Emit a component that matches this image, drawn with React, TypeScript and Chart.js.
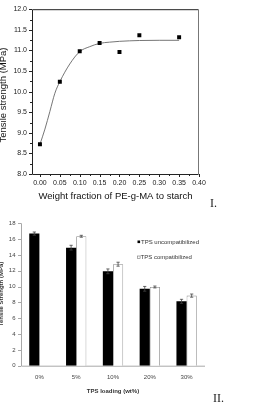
import { useEffect, useRef } from "react";
import { Chart, registerables } from "chart.js";

Chart.register(...registerables);

// ---- Panel I: tensile strength vs. PE-g-MA weight fraction ----
const peFraction = [0, 0.05, 0.1, 0.15, 0.2, 0.25, 0.35];
const tensileI = [8.72, 10.24, 10.98, 11.18, 10.96, 11.37, 11.32];
// fitted trend curve, sampled along the fraction axis
const fitFraction = [0, 0.0125, 0.025, 0.0375, 0.05, 0.075, 0.1, 0.125, 0.15, 0.175, 0.2, 0.25, 0.3, 0.35];
const fitTensile = [8.72, 9.09, 9.52, 9.96, 10.24, 10.67, 10.97, 11.09, 11.17, 11.2, 11.22, 11.24, 11.245, 11.245];
const xTicksI = [0, 0.05, 0.1, 0.15, 0.2, 0.25, 0.3, 0.35, 0.4];
const yTicksI = [8, 8.5, 9, 9.5, 10, 10.5, 11, 11.5, 12];

// ---- Panel II: tensile strength vs. TPS loading ----
const loadings = ["0%", "5%", "10%", "20%", "30%"];
const uncompat = [16.7, 14.92, 11.93, 9.72, 8.14];
const uncompatErr = [0.2, 0.3, 0.3, 0.3, 0.25];
const compat = [null, 16.36, 12.83, 9.95, 8.86];
const compatErr = [null, 0.12, 0.25, 0.12, 0.2];
const yTicksII = [0, 2, 4, 6, 8, 10, 12, 14, 16, 18];

const SANS = '"Liberation Sans", Arial, sans-serif';
const NARROW = '"Liberation Sans Narrow", "Liberation Sans", Arial, sans-serif';
const SERIF = '"Liberation Serif", "Times New Roman", serif';

function midpoints(arr: number[]) {
  const out: number[] = [];
  for (let i = 0; i < arr.length - 1; i++) out.push((arr[i] + arr[i + 1]) / 2);
  return out;
}

const frameI = {
  id: "frameI",
  afterDraw(chart: any) {
    const { ctx, chartArea: a, scales } = chart;
    const x = scales.x;
    const y = scales.y;
    ctx.save();
    ctx.lineWidth = 1;
    // box
    ctx.strokeStyle = "#222";
    ctx.beginPath();
    ctx.moveTo(a.left + 0.5, a.bottom + 0.5);
    ctx.lineTo(a.left + 0.5, a.top + 0.5);
    ctx.lineTo(a.right - 0.5, a.top + 0.5);
    ctx.stroke();
    ctx.beginPath();
    ctx.moveTo(a.left + 0.5, a.bottom + 0.5);
    ctx.lineTo(a.right - 0.5, a.bottom + 0.5);
    ctx.stroke();
    ctx.strokeStyle = "#777";
    ctx.beginPath();
    ctx.moveTo(a.right - 0.5, a.top + 0.5);
    ctx.lineTo(a.right - 0.5, a.bottom + 0.5);
    ctx.stroke();
    // outward tick marks, major and minor
    ctx.strokeStyle = "#222";
    const tick = (px: number, len: number, vertical: boolean) => {
      ctx.beginPath();
      if (vertical) {
        ctx.moveTo(Math.round(px) + 0.5, a.bottom);
        ctx.lineTo(Math.round(px) + 0.5, a.bottom + len);
      } else {
        ctx.moveTo(a.left, Math.round(px) + 0.5);
        ctx.lineTo(a.left - len, Math.round(px) + 0.5);
      }
      ctx.stroke();
    };
    xTicksI.forEach((v) => tick(x.getPixelForValue(v), 3, true));
    midpoints(xTicksI).forEach((v) => tick(x.getPixelForValue(v), 2, true));
    yTicksI.forEach((v) => tick(y.getPixelForValue(v), 3, false));
    midpoints(yTicksI).forEach((v) => tick(y.getPixelForValue(v), 2, false));
    // axis titles
    ctx.fillStyle = "#111";
    ctx.font = `9.5px ${SANS}`;
    ctx.textAlign = "center";
    ctx.textBaseline = "middle";
    ctx.fillText("Weight fraction of PE-g-MA to starch", (a.left + a.right) / 2, 196.5);
    ctx.save();
    ctx.translate(3.5, 95);
    ctx.rotate(-Math.PI / 2);
    ctx.fillText("Tensile strength (MPa)", 0, 0);
    ctx.restore();
    // panel numeral
    ctx.font = `12px ${SERIF}`;
    ctx.textAlign = "left";
    ctx.textBaseline = "alphabetic";
    ctx.fillStyle = "#222";
    ctx.fillText("I.", 210, 207);
    ctx.restore();
  },
};

const axesII = {
  id: "axesII",
  beforeDatasetsDraw(chart: any) {
    const { ctx, chartArea: a, scales } = chart;
    const y = scales.y;
    ctx.save();
    ctx.strokeStyle = "#a8a8a8";
    ctx.lineWidth = 1;
    ctx.beginPath();
    ctx.moveTo(a.left + 0.5, a.top);
    ctx.lineTo(a.left + 0.5, a.bottom + 0.5);
    ctx.lineTo(a.right, a.bottom + 0.5);
    ctx.stroke();
    yTicksII.forEach((v) => {
      const py = Math.round(y.getPixelForValue(v)) + 0.5;
      ctx.beginPath();
      ctx.moveTo(a.left, py);
      ctx.lineTo(a.left - 3, py);
      ctx.stroke();
    });
    ctx.restore();
  },
  afterDatasetsDraw(chart: any) {
    const { ctx, scales } = chart;
    const y = scales.y;
    const errs = [uncompatErr, compatErr];
    ctx.save();
    ctx.strokeStyle = "#444";
    ctx.lineWidth = 0.8;
    chart.data.datasets.forEach((ds: any, di: number) => {
      const meta = chart.getDatasetMeta(di);
      meta.data.forEach((bar: any, i: number) => {
        const v = ds.data[i];
        const e = errs[di][i];
        if (v == null || e == null) return;
        const x = bar.x;
        const y1 = y.getPixelForValue(v + e);
        const y2 = y.getPixelForValue(v - e);
        ctx.beginPath();
        ctx.moveTo(x, y1);
        ctx.lineTo(x, y2);
        ctx.moveTo(x - 1.6, y1);
        ctx.lineTo(x + 1.6, y1);
        ctx.moveTo(x - 1.6, y2);
        ctx.lineTo(x + 1.6, y2);
        ctx.stroke();
      });
    });
    ctx.restore();
  },
  afterDraw(chart: any) {
    const { ctx, chartArea: a } = chart;
    ctx.save();
    // legend
    ctx.font = `6px ${NARROW}`;
    ctx.textBaseline = "middle";
    ctx.textAlign = "left";
    ctx.fillStyle = "#000";
    ctx.fillRect(137.5, 28.5, 2.6, 2.6);
    ctx.fillStyle = "#333";
    ctx.fillText(chart.data.datasets[0].label, 141, 30);
    ctx.strokeStyle = "#777";
    ctx.lineWidth = 0.6;
    ctx.strokeRect(137.5, 44, 2.6, 2.6);
    ctx.fillText(chart.data.datasets[1].label, 140.6, 45.5);
    // axis titles
    ctx.font = `bold 6px ${NARROW}`;
    ctx.textAlign = "center";
    ctx.fillStyle = "#333";
    ctx.fillText("TPS loading (wt%)", (a.left + a.right) / 2, 179.7);
    ctx.save();
    ctx.translate(1.5, 82);
    ctx.rotate(-Math.PI / 2);
    ctx.fillText("Tensile Strength (MPa)", 0, 0);
    ctx.restore();
    // panel numeral
    ctx.font = `12px ${SERIF}`;
    ctx.textAlign = "left";
    ctx.textBaseline = "alphabetic";
    ctx.fillStyle = "#222";
    ctx.fillText("II.", 213, 189.5);
    ctx.restore();
  },
};

export default function App() {
  const refI = useRef<HTMLCanvasElement>(null);
  const refII = useRef<HTMLCanvasElement>(null);

  useEffect(() => {
    const chartI = new Chart(refI.current!, {
      type: "scatter",
      data: {
        datasets: [
          {
            label: "Tensile strength",
            data: peFraction.map((x, i) => ({ x, y: tensileI[i] })),
            pointStyle: "rect",
            pointRadius: 2.8,
            backgroundColor: "#000",
            borderColor: "#000",
            borderWidth: 0,
            showLine: false,
          },
          {
            label: "Fit",
            type: "line",
            data: fitFraction.map((x, i) => ({ x, y: fitTensile[i] })),
            borderColor: "#666",
            borderWidth: 0.9,
            pointRadius: 0,
            cubicInterpolationMode: "monotone",
            fill: false,
          },
        ],
      },
      plugins: [frameI],
      options: {
        animation: false,
        responsive: true,
        maintainAspectRatio: false,
        layout: { padding: { left: 0, right: 77, top: 6, bottom: 0 } },
        plugins: { legend: { display: false }, tooltip: { enabled: false } },
        scales: {
          x: {
            type: "linear",
            min: -0.02,
            max: 0.4,
            grid: { display: false, drawTicks: false },
            border: { display: false },
            ticks: {
              font: { size: 7, family: SANS },
              color: "#222",
              padding: 5,
              maxRotation: 0,
              autoSkip: false,
              callback: (v: any) => Number(v).toFixed(2),
            },
            afterBuildTicks: (s: any) => {
              s.ticks = xTicksI.map((value) => ({ value }));
            },
            afterFit: (s: any) => {
              s.height = 38;
            },
          },
          y: {
            type: "linear",
            min: 8,
            max: 12,
            grid: { display: false, drawTicks: false },
            border: { display: false },
            ticks: {
              font: { size: 7, family: SANS },
              color: "#222",
              padding: 5,
              autoSkip: false,
              callback: (v: any) => Number(v).toFixed(1),
            },
            afterBuildTicks: (s: any) => {
              s.ticks = yTicksI.map((value) => ({ value }));
            },
            afterFit: (s: any) => {
              s.width = 32;
            },
          },
        },
      },
    } as any);

    const chartII = new Chart(refII.current!, {
      type: "bar",
      data: {
        labels: loadings,
        datasets: [
          {
            label: "TPS uncompatibilized",
            data: uncompat,
            backgroundColor: "#000",
            borderWidth: 0,
          },
          {
            label: "TPS compatibilized",
            data: compat,
            backgroundColor: "#fff",
            borderColor: "#8a8a8a",
            borderWidth: 0.8,
          },
        ],
      },
      plugins: [axesII],
      options: {
        animation: false,
        responsive: true,
        maintainAspectRatio: false,
        categoryPercentage: 0.552,
        barPercentage: 1,
        layout: { padding: { left: 0, right: 71, top: 11.3, bottom: 0 } },
        plugins: { legend: { display: false }, tooltip: { enabled: false } },
        scales: {
          x: {
            grid: { display: false, drawTicks: false },
            border: { display: false },
            ticks: {
              font: { size: 6, family: NARROW },
              color: "#444",
              padding: 8,
              maxRotation: 0,
            },
            afterFit: (s: any) => {
              s.height = 39.3;
            },
          },
          y: {
            min: 0,
            max: 18,
            grid: { display: false, drawTicks: false },
            border: { display: false },
            ticks: {
              font: { size: 6, family: NARROW },
              color: "#444",
              padding: 5.5,
              autoSkip: false,
            },
            afterBuildTicks: (s: any) => {
              s.ticks = yTicksII.map((value) => ({ value }));
            },
            afterFit: (s: any) => {
              s.width = 21;
            },
          },
        },
      },
    } as any);

    return () => {
      chartI.destroy();
      chartII.destroy();
    };
  }, []);

  return (
    <div style={{ position: "absolute", left: 0, top: 0, width: 276, height: 405, background: "#fff" }}>
      <div style={{ position: "absolute", left: 0, top: 0, width: 276, height: 212 }}>
        <canvas ref={refI} />
      </div>
      <div style={{ position: "absolute", left: 0, top: 212, width: 276, height: 193 }}>
        <canvas ref={refII} />
      </div>
    </div>
  );
}
